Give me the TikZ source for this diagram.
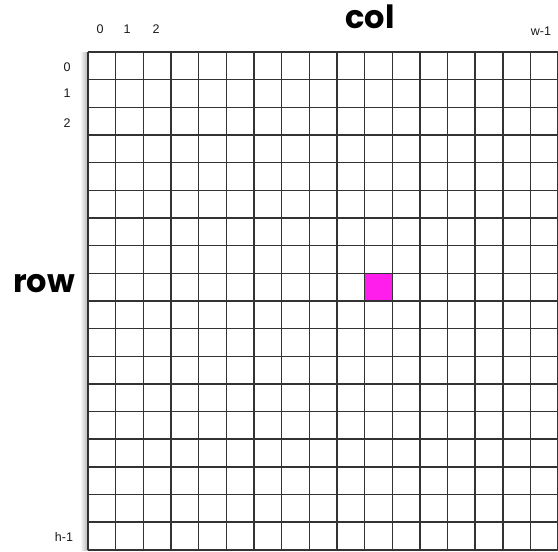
\documentclass[tikz,border=0pt]{standalone}
\usepackage{fontspec}
\newfontfamily\labfont{Liberation Sans}
\newfontfamily\titfont{Poppins}
\usetikzlibrary{positioning}

\begin{document}
\begin{tikzpicture}[x=1pt,y=-1pt,
 gridline/.style={draw=black!80,line width=1.5pt},
 idx/.style={font=\labfont\fontsize{12.5}{14}\selectfont,text=black!90,inner sep=0pt},
 axis/.style={font=\titfont\bfseries\fontsize{32}{36}\selectfont,inner sep=0pt},
 hit/.style={fill={rgb,255:red,255;green,30;blue,235}}]
\useasboundingbox (0,0) rectangle (558,552);
\def\cell{27.66}
% soft shadow along the left edge
\shade[left color=white,right color=black!30] (80,52) rectangle (88,550);
\fill[white] (88,52) rectangle (558,550);
% the highlighted pixel (row 8, col 10)
\fill[hit] (88+10*\cell,52+8*\cell) rectangle ++(\cell,\cell);
\begin{scope}
\clip (0,0) rectangle (558,552);
\foreach \c in {0,...,17}
  \draw[gridline] (88+\c*\cell,52) -- (88+\c*\cell,52+18*\cell);
\foreach \r in {0,...,18}
  \draw[gridline] (88,52+\r*\cell) -- (570,52+\r*\cell);
\end{scope}
% column indices
\node[idx] (c0) at (100,29) {0};
\node[idx] (c1) at (127,29) {1};
\node[idx] (c2) at (156,29) {2};
\node[idx] (cw) at (541,31) {w-1};
% row indices
\node[idx] (r0) at (67,67) {0};
\node[idx] (r1) at (67,93) {1};
\node[idx] (r2) at (67,123) {2};
\node[idx] (rh) at (64,537) {h-1};
% axis names
\node[axis] (col) at (370,17) {col};
\node[axis] (row) at (44,284) {row};
\end{tikzpicture}
\end{document}
